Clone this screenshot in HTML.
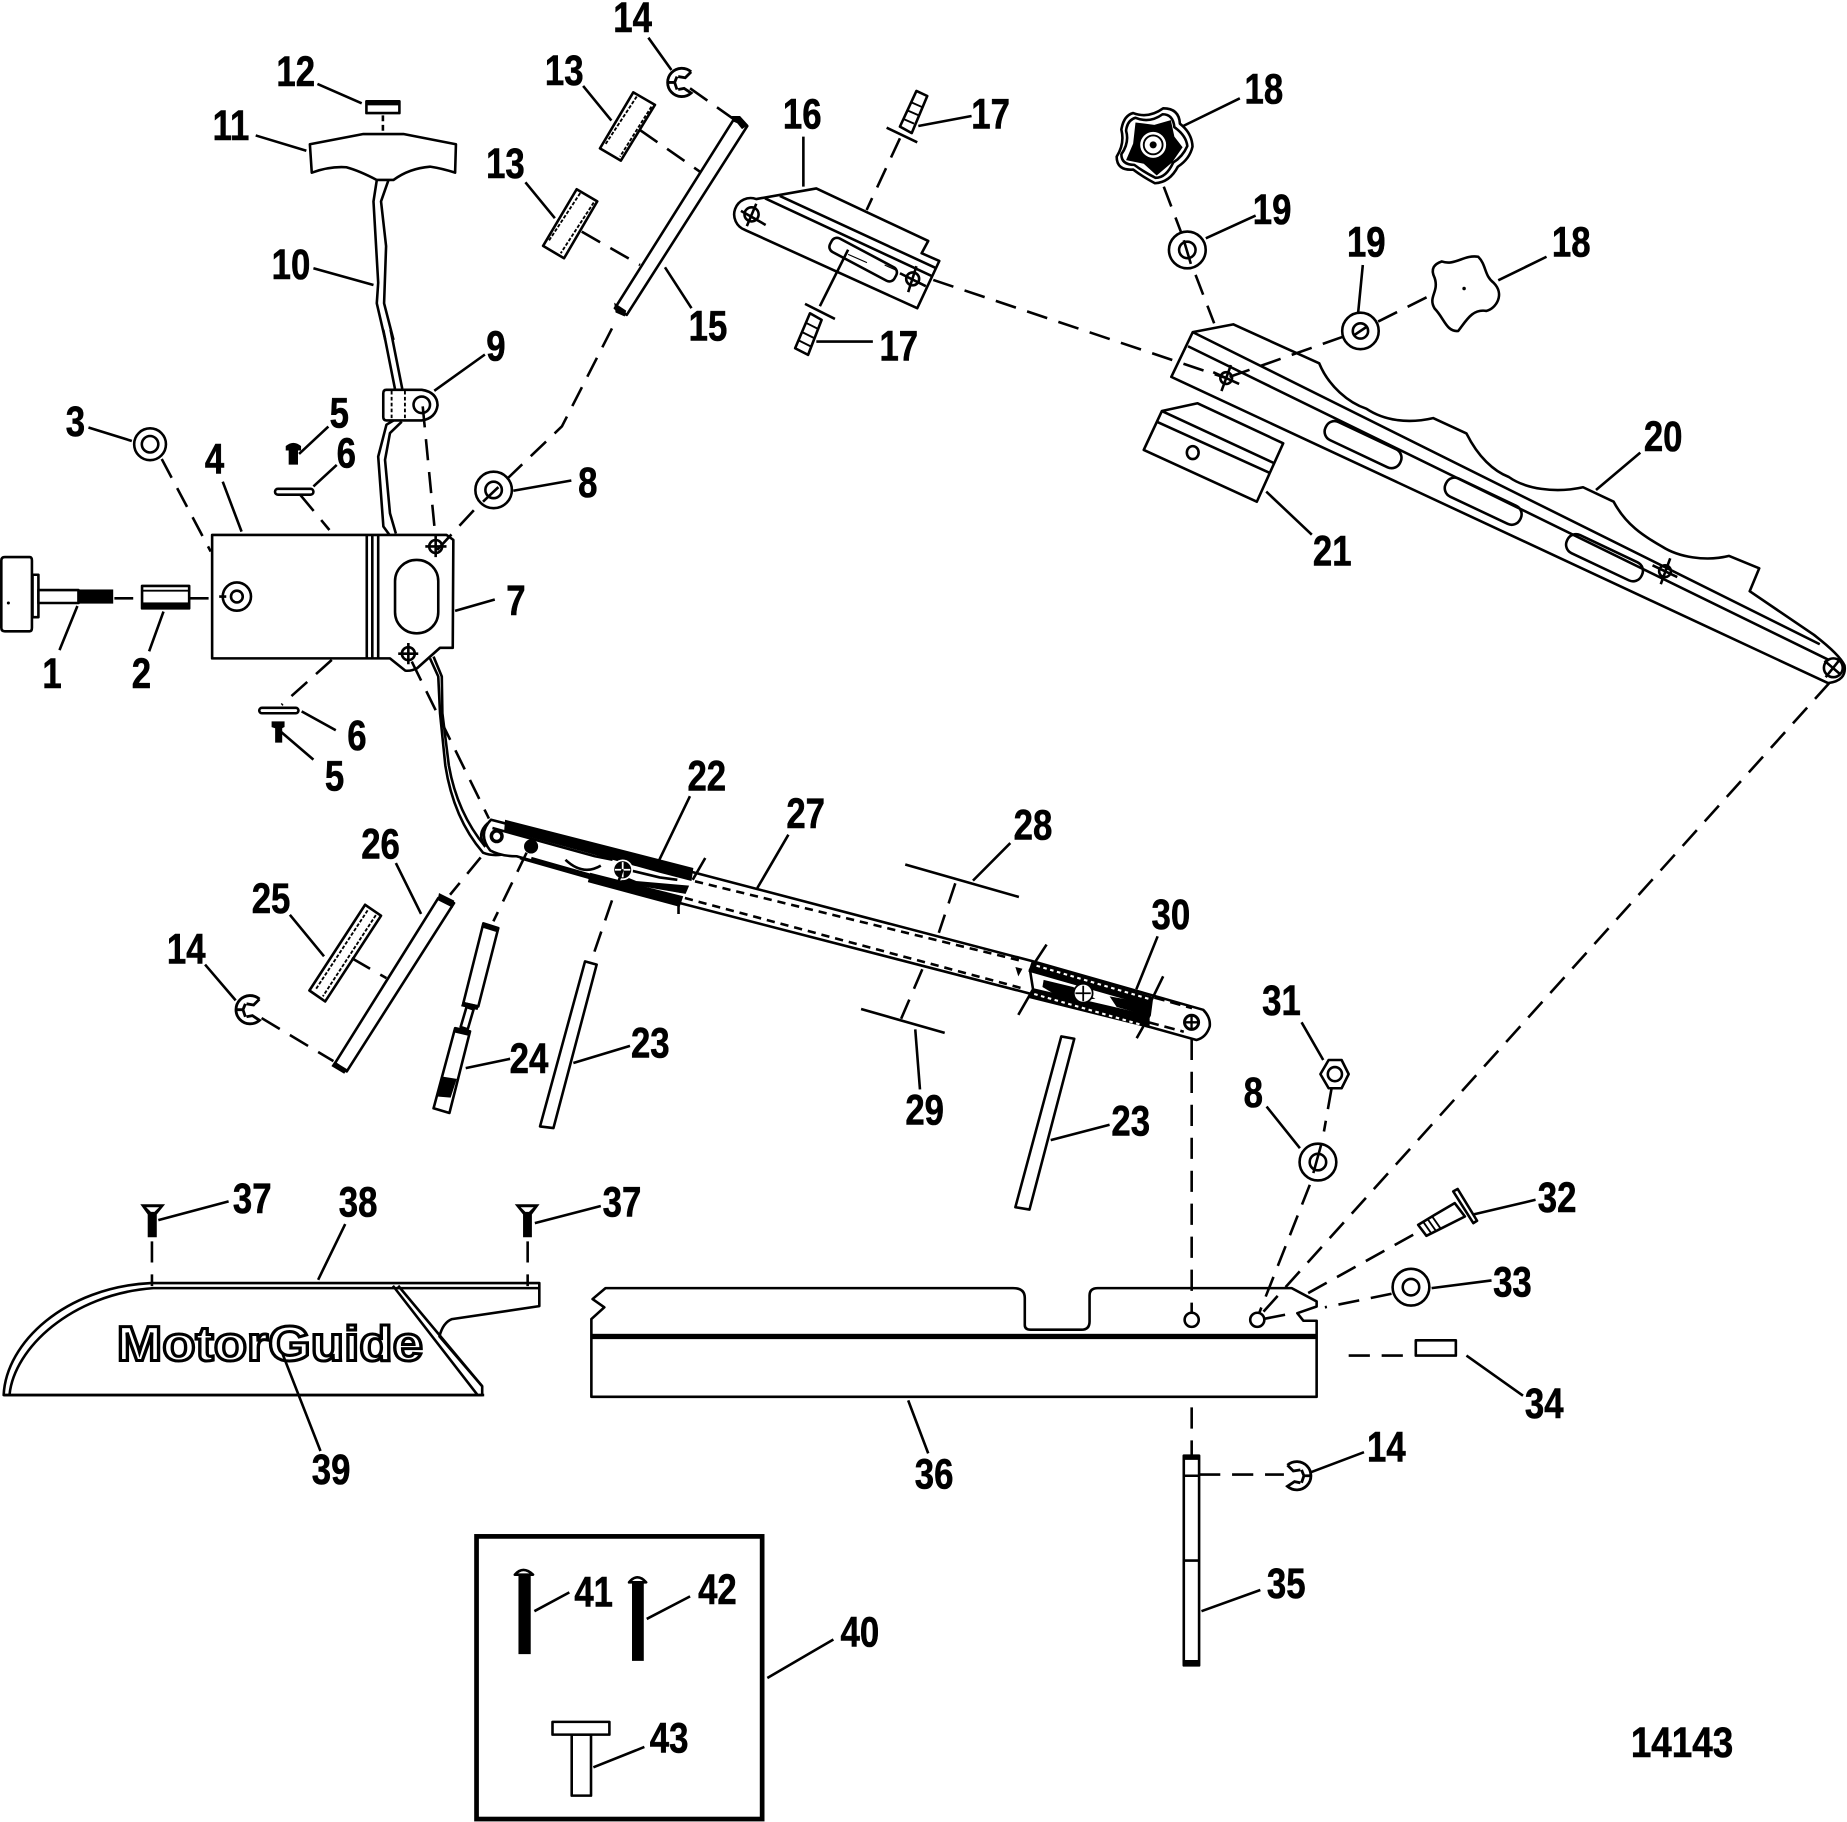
<!DOCTYPE html>
<html><head><meta charset="utf-8"><style>
html,body{margin:0;padding:0;background:#fff}
svg{display:block}
text{font-family:"Liberation Sans",sans-serif;font-weight:bold;font-size:36px;fill:#000;stroke:#000;stroke-width:.5;text-anchor:middle}
.l{fill:none;stroke:#000;stroke-width:2.2;stroke-linejoin:round}
.d{fill:none;stroke:#000;stroke-width:2.2;stroke-dasharray:18 10}
.t{fill:none;stroke:#000;stroke-width:1.6;stroke-linejoin:round}
.w{fill:#fff;stroke:#000;stroke-width:2.2;stroke-linejoin:round}
.b{fill:#000;stroke:#000;stroke-width:1}
</style></head><body>
<svg width="1847" height="1822" viewBox="0 0 1568 1547" xmlns="http://www.w3.org/2000/svg">
<defs>
<g id="clip" fill="none" stroke="#000" stroke-width="2.4">
<path d="M8,-9A12,12 0 1 0 8,9L2,5L-3,6M8,-9L3,-4L-3,-5M-12,0L-5,0M-4,-5L-6,0L-4,6"/>
</g>
</defs>
<rect width="1568" height="1547" fill="#fff"/>

<!-- part 1 knob -->
<path class="w" d="M4,473H25Q27,473 27,476V533Q27,536 25,536H4Q1,536 1,533V476Q1,473 4,473Z"/>
<rect class="w" x="27.5" y="488" width="5" height="36"/>
<rect class="w" x="32.5" y="501" width="34" height="11"/>
<rect class="b" x="66.5" y="501" width="29" height="11"/>
<circle cx="7" cy="512" r="1.3"/>
<!-- part 2 -->
<rect class="w" x="120.5" y="497.5" width="40" height="19"/>
<rect class="b" x="120.5" y="512" width="40" height="4.5"/><path class="t" d="M120,501.5H160"/>
<!-- part 3 -->
<circle class="l" cx="127.3" cy="377.2" r="13.5"/><circle class="l" cx="127.3" cy="377.2" r="7"/>
<!-- part 4 / 7 -->
<path class="w" d="M180,454.2H379L384.8,458.4L384.3,550H373.5L354,567.4Q349,570 344,569.4L331,559H180Z"/>
<path class="l" d="M311.3,454V559M316,454V559M321,454V559"/>
<rect class="l" x="335.3" y="475.4" width="36.7" height="62.3" rx="18"/>
<circle class="l" cx="201" cy="506.5" r="12"/><circle class="l" cx="201" cy="506.5" r="5"/>
<g class="l"><circle cx="369.8" cy="464" r="5.5"/><path d="M361,464H379M369.8,455V473"/>
<circle cx="346.6" cy="555" r="5.5"/><path d="M338,555H355M346.6,546V564"/></g>
<!-- part 5,6 top -->
<path class="b" d="M243,379Q249,374 255,379V382H252.4V394H245.5V382H243Z"/>
<rect class="l" x="233.4" y="415" width="32.6" height="5" rx="2.5"/>
<!-- part 6,5 bottom -->
<rect class="l" x="220" y="601" width="33.3" height="4.6" rx="2.3"/>
<path class="b" d="M231,613H241V617L239,618V630H234V618L231,617Z"/>
<!-- part 8 -->
<circle class="l" cx="419" cy="416" r="15.5"/><circle class="l" cx="419" cy="416" r="7"/>
<circle class="l" cx="1118.9" cy="986.7" r="15.6"/><ellipse class="l" cx="1118.9" cy="986.7" rx="7" ry="7"/>
<path class="l" d="M1122,970.6L1115,996"/>
<!-- part 9 -->
<path class="l" d="M325.3,280L335.2,330M331.5,280L341.4,330"/>
<path class="w" d="M328,331H358Q371,333 371.4,344Q370,355 358,357H328Q325.3,357 325.3,354V334Q325.3,331 328,331Z"/>
<circle class="l" cx="358" cy="343.7" r="7"/>
<path class="t" d="M332.4,332V356M343.7,332V356" stroke-dasharray="3 2" stroke-width="2"/>
<!-- cable upper -->
<path class="l" d="M319.8,153L317,171L321,240L319.8,257.5L327,288.6M329.7,153L323.4,171L327.7,209L326,257.5L334,288.6"/>
<path class="l" d="M334,357L328,360.6L321,387.7L325.4,447L330.5,454M341,358L331,367.7L326.8,390.5L331,435.8L336,453"/>
<!-- cable lower -->
<path class="l" d="M365,559L372,574.4L373.5,605.6L378,650Q385,695 410,724Q420,728 433,724L447,711.6L458.4,713L475.4,724M368,557.5L375,574.4L375.5,605.6L381,650Q388,690 412,719"/>
<!-- part 11, 12 -->
<path class="w" d="M263,122.5L308.4,113.8H342.4L387,122.5L386.3,146.6Q375,143 365,141.5Q347,143 334,152.8H319.8Q305,145 294,142Q280,141 264.6,146.6Z"/>
<rect class="l" x="311" y="86" width="28" height="10"/><path class="b" d="M311,86H339V89H311Z"/>
<!-- parts 13 -->
<path class="w" d="M537.6,78.4L556,89L527,136.4L509.3,126Z"/><path class="t" d="M540.5,82L513.6,123M553,90.5L526.3,133" stroke-dasharray="3 1.5"/>
<path class="w" d="M489.5,160.7L507,171L478.8,219.3L461,208.8Z"/><path class="t" d="M492.5,164L465.5,205M504,172L476,215" stroke-dasharray="3 1.5"/>
<!-- part 14 clips -->
<use href="#clip" x="578.7" y="70"/><use href="#clip" x="212.2" y="857.3"/>
<use href="#clip" transform="translate(1101,1253) scale(-1,1)"/>
<!-- part 15 -->
<path class="w" d="M622.5,102L634.4,107L532,267.4L522,261.7Z"/>
<path class="b" d="M622,99L628,99L634.4,106L630,109ZM522,258L531,264L530,268L523,265Z"/>
<!-- part 16 -->
<path class="w" d="M642,169L693,160L788,204.6L782.4,215L797.4,221.6L778.7,261.7L632.4,195.2A12.7,12.7 0 0 1 642,169Z"/>
<path class="l" d="M649.4,168.4L792,234.8M662,166.4L795,227.8"/>
<rect class="l" x="702" y="214" width="62" height="13" rx="5" transform="rotate(28 733 220)"/>
<path class="b" d="M720,216L736,223M751,225L762,230" stroke-width="3"/>
<g class="l"><circle cx="638" cy="182" r="6"/><path d="M629,179L650,191M642,173L634,192"/>
<circle cx="774.8" cy="236.8" r="5.5"/><path d="M764,232L786,243M778,226L771,248"/></g>
<!-- part 17 -->
<path class="w" d="M778,77.2L787.2,81.5L774,113L764,107.5Z"/><path class="t" d="M774,87L783,91M771,94L780,98M767,101L776,105"/>
<path class="l" d="M752.7,108.4L778.7,120.8" stroke-width="3.5"/>
<path class="w" d="M687.6,266L697.5,271.6L686,301.3L675,295.7Z"/><path class="t" d="M684,274L694,279M681,282L691,287M678,289L688,294"/>
<path class="l" d="M683.4,258L708.8,270.8" stroke-width="3.5"/>
<!-- part 18 dark knob -->
<path class="w" d="M962,96Q975,101 987.5,92Q1001,92 1001.7,105Q1012,113 1012.4,124.5Q1010,135 1000,141.5Q993,155 980.5,155.6Q970,150 962,144Q948,145 948,133Q955,122 952,110Q954,98 962,96Z"/>
<path class="l" d="M964,100Q976,105 987,97Q996,97 997,108Q1007,115 1008,124Q1004,133 996,138Q990,151 981,151Q971,146 963,140Q952,140 952,131Q959,121 956,111Q957,102 964,100Z"/>
<path d="M964,104L980,106L994,102L997,116L1004,125L995,138L982,149L971,139L956,136L962,122Z" fill="#000"/>
<circle cx="979" cy="123" r="11" fill="#fff"/><circle cx="979" cy="123" r="8" fill="none" stroke="#000" stroke-width="1.6"/><circle cx="979" cy="123" r="3" fill="#000"/>
<!-- part 18 outline knob -->
<path class="w" d="M1224,222C1235,226 1243,216 1255,218C1262,225 1260,234 1268,240C1278,250 1270,262 1262,264C1250,262 1245,272 1238,281C1228,282 1226,270 1218,262C1212,252 1222,248 1218,236C1214,228 1218,224 1224,222Z"/>
<circle cx="1243" cy="245" r="1.5"/>
<!-- part 19 -->
<circle class="l" cx="1008" cy="212.2" r="15.6"/><circle class="l" cx="1008" cy="212.2" r="7"/><path class="l" d="M1005,204L1011,224"/>
<circle class="l" cx="1155" cy="281" r="15.5"/><circle class="l" cx="1155" cy="281" r="6.5"/><path class="l" d="M1149,285L1161,277"/>
<!-- part 20 -->
<path class="w" d="M1012.6,282L1047,275.4L1120,308.5C1128,328 1145,342 1160,347C1175,357 1195,360 1216.7,355L1245,368C1255,388 1268,400 1281,405C1295,415 1320,419 1344,413.7L1370,426C1380,445 1395,455 1411,464C1425,473 1448,477 1468,472L1493.6,482.5L1485.5,502L1540,539Q1562,556 1566,565Q1568,578 1552,580L994.4,320Z"/>
<path class="l" d="M1012.6,282L1545,547M1008.6,294L1552,560"/>
<g class="l">
<rect x="1122" y="369" width="70" height="17" rx="8" transform="rotate(25.3 1157 378)"/>
<rect x="1224" y="417" width="70" height="17" rx="8" transform="rotate(25.3 1259 426)"/>
<rect x="1327" y="465" width="70" height="17" rx="8" transform="rotate(25.3 1362 474)"/>
<circle cx="1041" cy="321" r="5"/><path d="M1030,316L1052,326M1045,310L1037,332"/>
<circle cx="1413.6" cy="485" r="5"/><path d="M1403,480L1424,490M1418,474L1410,496"/>
<circle cx="1556.5" cy="567" r="8"/><path d="M1549,561L1563,573M1562,560L1550,575"/>
</g>
<!-- part 21 -->
<path class="w" d="M986.4,349L1016.7,342.4L1089.4,376.4L1067,426L971,382Z"/>
<path class="l" d="M986.4,349L1082,393.4M982,358L1078.5,401.8"/>
<ellipse class="l" cx="1012.6" cy="384.3" rx="5" ry="5.5"/>
<!-- bar 22-30 -->
<path class="w" d="M416.8,696L590,741L876,816L1021.5,857.4Q1028,864 1027,871.6Q1024,881 1015.8,883L872,843L577,766.7L438.5,727Q425,727 416,722Q405,708 416.8,696Z"/>
<path d="M428.7,696L588.6,737L587,748L560,741L480,719L428,705Z" fill="#000"/>
<path d="M501,741L580,761L577,770L499,749Z" fill="#000"/>
<path d="M520,740L540,748L585,752L582,759L530,750Z" fill="#000"/>
<path class="l" d="M451,728.6L501,742.8M441.4,728.6L501,745.6M418,703L505,727L520,730"/>
<path class="l" d="M535,739L560,745L575,747M540,750L578,757" stroke="#fff"/>
<path class="l" stroke-dasharray="7 5" stroke-width="2.5" d="M590,748.3L868,816M581.4,762.5L867,838.9"/>
<path class="l" stroke-dasharray="9 5" stroke-width="2.5" d="M980,847L1012,856M975,868L1005,876"/>
<path d="M875.8,816.4L977.7,846V855L873,825Z" fill="#000"/>
<path d="M877,839L976,862V873L872,847Z" fill="#000"/>
<path d="M886,832L911,838L930,848L905,850L885,838Z" fill="#000"/>
<path d="M942,846L976,852V863L948,855Z" fill="#000"/>
<path d="M880,820L975,848M878,844L972,871" stroke="#fff" stroke-width="1.8" stroke-dasharray="3 3" fill="none"/>
<path d="M862,821L868,822.5L864.5,829Z" fill="#000"/>
<circle cx="421.6" cy="710" r="6" fill="#000"/><circle cx="421.6" cy="710" r="3" fill="#fff"/>
<path class="l" d="M414,699Q404,708 412,719"/>
<circle cx="450.8" cy="718.7" r="6" fill="#000"/>
<path class="l" d="M480,730Q495,744 510,735"/>
<circle cx="528.6" cy="738.5" r="8" fill="#000" stroke="#fff" stroke-width="1.5"/>
<path d="M522,738.5H535M528.6,732V745" stroke="#fff" stroke-width="1.5"/>
<circle cx="919.6" cy="843.3" r="8" fill="#fff" stroke="#000" stroke-width="1.5"/>
<path d="M913,843.3H926M919.6,837V850" stroke="#000" stroke-width="1.5"/>
<circle cx="1011.6" cy="868" r="6" fill="#fff" stroke="#000" stroke-width="2.5"/>
<path d="M1006,868H1017M1011.6,863V873" stroke="#000" stroke-width="2"/>
<path class="l" d="M598.7,728.5L588,747M576,761L576,776M888.5,802L874.4,823.5L877,840L864.5,861.7M987.5,829L977.7,849L976,862L965,881.5"/>
<path class="l" d="M768.5,734L865,761.6M731,856.7L802,877"/>
<!-- part 24 -->
<path class="w" d="M410.3,784L423,788L406,854.5L393.3,851.7Z"/><path class="w" d="M396,855L402,857L397,874L391,872Z"/>
<path class="w" d="M386.3,873L399,875.7L381.5,945L368,941Z"/><path d="M375,914L387.7,916L382.5,932L371,931Z" fill="#000"/>
<path class="b" d="M410,784L423,788L422,791L409,787ZM393,851L406,854L405,857L392,854ZM386,873L399,876L398,879L385,876Z"/>
<!-- part 23 -->
<path class="w" d="M496.6,816.3L506.5,819L469.8,957.8L458.4,956.4Z"/>
<path class="w" d="M901,880L912,882L874,1027L862,1025Z"/>
<!-- part 25, 26 -->
<path class="w" d="M309.9,768.2L323.4,777.5L276,850.3L262.6,841Z"/><path class="t" d="M312,773L268,840M319,777L274,846" stroke-dasharray="3 1.5"/>
<path class="w" d="M372,762.5L385.4,766.8L294.3,909.7L284.4,902.6Z"/>
<path class="b" d="M373,759L385,765L384,770L372,764ZM284,902L294,908L292,911L282,905Z"/>
<!-- part 31 -->
<path class="l" d="M1128,900H1139L1145,912L1139,924H1128L1121,912Z"/><circle class="l" cx="1133.3" cy="912" r="6"/>
<!-- part 32 -->
<path class="w" d="M1235,1021.5L1218,1031.5L1204,1040L1211,1049.3L1224,1042.8L1243.7,1032.9Z"/>
<path class="t" d="M1208,1037L1215,1047M1212,1035L1219,1045M1216,1033L1223,1043"/>
<path class="w" d="M1233.8,1011.6L1237.5,1009.5L1254,1036.5L1250.8,1038.5Z"/>
<!-- part 33 -->
<circle class="l" cx="1197.9" cy="1092.9" r="15.6"/><circle class="l" cx="1197.9" cy="1092.9" r="7"/>
<!-- part 34 -->
<rect class="l" x="1202" y="1138" width="34" height="13"/>
<!-- part 35 -->
<rect class="w" x="1005" y="1236" width="13" height="178"/><path class="l" d="M1005,1253H1018M1005,1325H1018"/>
<path class="b" d="M1005,1236H1018V1239H1005ZM1005,1410H1018V1414H1005Z"/>
<!-- part 36 -->
<path class="w" d="M502,1186V1120L513,1110L503,1103L514,1093.7H860Q870,1093.7 870,1102V1125Q870,1129 875,1129H918Q925,1129 925,1122V1100Q925,1093.7 932,1093.7H1096.6L1117.8,1105V1109.3L1101.4,1115L1106.5,1121.4H1117.8V1186Z"/>
<rect x="502" y="1132.5" width="615.8" height="4.5" fill="#000"/>
<!-- part 37 -->
<path class="b" d="M120,1023H139L132.5,1031V1050H125.8V1031Z"/><path d="M124,1025H135L131,1029H128Z" fill="#fff"/>
<path class="b" d="M438,1023H457L451,1031V1050H444.5V1031Z"/><path d="M442,1025H453L449,1029H446Z" fill="#fff"/>
<!-- part 38 cover -->
<path class="w" d="M3,1184.5C5,1140 55,1093 128,1089.4H457.8V1109L383.6,1120Q376,1123 373,1134.7L409.3,1177V1184.5Z"/>
<path class="l" d="M8,1184C12,1145 60,1099 130,1093.7H457.8" stroke-width="1.8"/>
<path class="l" d="M333.5,1091.7L405,1184M338,1091.7L409.3,1177" stroke-width="1.8"/>
<path class="l" d="M3,1184.5H411"/>
<!-- MotorGuide -->
<text x="229" y="1155" textLength="260" lengthAdjust="spacingAndGlyphs" style="font-size:42px;fill:#fff;stroke:#000;stroke-width:2.6">MotorGuide</text>

<!-- box 40 -->
<rect x="404.5" y="1304.5" width="242.5" height="240" fill="none" stroke="#000" stroke-width="4"/>
<path class="b" d="M440.6,1338H450V1404H440.6Z"/><path class="w" d="M437,1337Q444,1329 452.5,1337Z"/>
<path class="b" d="M537,1344H546V1409.7H537Z"/><path class="w" d="M534,1343.5Q541,1335 548.5,1343.5Z"/>
<rect class="w" x="485.3" y="1472.8" width="16.4" height="51.8"/>
<rect class="w" x="469" y="1462" width="48.3" height="10.8"/>

<!-- dashed connectors -->
<g class="d">
<path d="M137.2,389.7L178.8,468.3"/><path d="M254.7,420L279.6,450"/><path d="M281.6,560.3L239,598.5"/>
<path d="M358.8,345L369.3,452.8"/><path d="M371,467L407,428"/><path d="M410,426L430,407L477,362L523,272"/>
<path d="M349.5,561.7L415,695"/>
<path d="M543.3,110.4L594,145.7"/><path d="M493.8,196.7L543.3,225"/><path d="M585.8,75L624,102"/>
<path d="M764,117.4L735.7,178.3"/>
<path d="M792.3,237.7L1041,321"/>
<path d="M988,158.5L1003,198"/><path d="M1015,233.4L1030.8,274.5"/>
<path d="M1140,286L1041,321"/><path d="M1170,273L1216,250"/>
<path d="M408,728L382,759.7"/><path d="M447,724L418.8,782.3"/><path d="M528.6,738L502.2,815"/>
<path d="M222,864.4L283,901"/><path d="M298.5,813.5L328,830.5"/>
<path d="M811,750L797,792"/><path d="M783,823L765,865"/>
<path d="M1011.7,882V1115"/><path d="M1011.7,1195V1236"/>
<path d="M1553,580L1067,1120"/>
<path d="M1130.5,924L1124,960.7"/><path d="M1112,1006L1067,1120"/>
<path d="M1199.8,1048.4L1107.9,1099.4"/><path d="M1091,1116.3L1067,1121"/>
<path d="M1181.4,1098.5L1124.8,1110"/>
<path d="M1145,1151L1200,1151"/>
<path d="M1018,1252L1090,1252"/>
<path d="M128.9,1054V1092"/><path d="M447.9,1054V1092"/>
<path d="M325,98V113" stroke-dasharray="5 3"/>
</g>
<circle class="w" cx="1011.7" cy="1120.6" r="6"/><circle class="w" cx="1067.4" cy="1120.6" r="6"/>
<path class="l" d="M696,260L720,212"/>

<!-- leaders -->
<g class="l">
<path d="M65.6,514.5L50.4,552M138.7,519.3L126.5,553M75,363L111.8,374.4M189,409L205,451.4"/>
<path d="M97,508H113M160.7,508H177M186,506.5H192"/>
<path d="M253.8,385.4L278.7,362.2M266,413L285.8,394.8M256,604L285,620M238,621L266,645"/>
<path d="M386.3,518.7L420,509M368.6,331.8L411.6,301M435.7,416.7L485,408"/>
<path d="M266,227.8L317,242M217,115L260,128M269.4,71.3L307,87.7M495,73L519,102.4M446,154.8L471,185.3"/>
<path d="M550.4,32L570,59.4M564.5,227L587,261.7"/>
<path d="M682,116V158.5M779.6,107L824.8,98.5M693,290H741"/>
<path d="M1004.5,107L1052.6,83.5M1023.7,202.3L1066,183M1157,225L1153,266M1272,238L1313,218"/>
<path d="M1355,416L1392.6,384.3M1075,417.4L1113.7,454"/>
<path d="M559.7,730L585.7,676M642.9,754L669.3,708.7M826,747.7L857.7,715.8M964.7,840L982.8,795"/>
<path d="M357.4,776L336,732.8M275,812L246,776.7M200,849.4L174,819"/>
<path d="M395.3,906.9L433,899M486.7,902.6L534.8,888M892,968L942,955"/>
<path d="M777,874L781,925"/>
<path d="M1123.4,900L1105,868M1103.6,974.9L1075.3,939.5"/>
<path d="M1251.6,1031L1303.7,1018.7M1215.4,1093.7L1266.3,1087.2M1245,1151L1293,1185"/>
<path d="M134.3,1036L194,1020M454,1038.5L510,1024M270,1086.6L293,1039.3"/>
<path d="M239.5,1148.8L272,1232M771,1189L788,1234"/>
<path d="M1113,1250L1158,1233M1020,1368L1070,1350"/>
<path d="M453.6,1368L483.3,1352M549,1374.6L585.8,1355.4M651.4,1424.7L707.5,1392M503.7,1500.6L547,1483.3"/>
</g>

<!-- labels -->
<g transform="scale(0.82 1)">
<text x="53.7" y="584">1</text>
<text x="146.3" y="584">2</text>
<text x="78" y="370">3</text>
<text x="222" y="402">4</text>
<text x="351.2" y="363">5</text>
<text x="358.5" y="397">6</text>
<text x="534.1" y="522">7</text>
<text x="608.5" y="422">8</text>
<text x="513.4" y="306">9</text>
<text x="301.2" y="237">10</text>
<text x="239" y="119">11</text>
<text x="306.1" y="73">12</text>
<text x="584.1" y="72">13</text>
<text x="523.2" y="151">13</text>
<text x="654.9" y="27">14</text>
<text x="732.9" y="289">15</text>
<text x="830.5" y="109">16</text>
<text x="1025.6" y="109">17</text>
<text x="930.5" y="306">17</text>
<text x="1308.5" y="88">18</text>
<text x="1317.1" y="190">19</text>
<text x="1414.6" y="218">19</text>
<text x="1626.8" y="218">18</text>
<text x="1722" y="383">20</text>
<text x="1379.3" y="480">21</text>
<text x="731.7" y="671">22</text>
<text x="834.1" y="703">27</text>
<text x="1069.5" y="713">28</text>
<text x="1212.2" y="789">30</text>
<text x="393.9" y="729">26</text>
<text x="280.5" y="775">25</text>
<text x="192.7" y="818">14</text>
<text x="369.5" y="637">6</text>
<text x="346.3" y="671">5</text>
<text x="547.6" y="911">24</text>
<text x="673.2" y="898">23</text>
<text x="957.3" y="955">29</text>
<text x="1170.7" y="964">23</text>
<text x="1326.8" y="862">31</text>
<text x="1297.6" y="940">8</text>
<text x="1612.2" y="1029">32</text>
<text x="1565.9" y="1101">33</text>
<text x="1598.8" y="1204">34</text>
<text x="261" y="1030">37</text>
<text x="370.7" y="1033">38</text>
<text x="643.9" y="1033">37</text>
<text x="342.7" y="1260">39</text>
<text x="967.1" y="1264">36</text>
<text x="1435.4" y="1241">14</text>
<text x="1331.7" y="1357">35</text>
<text x="614.6" y="1364">41</text>
<text x="742.7" y="1362">42</text>
<text x="890.2" y="1398">40</text>
<text x="692.7" y="1488">43</text>
<text x="1741.5" y="1492" textLength="106" lengthAdjust="spacingAndGlyphs">14143</text>
</g>
</svg>
</body></html>
